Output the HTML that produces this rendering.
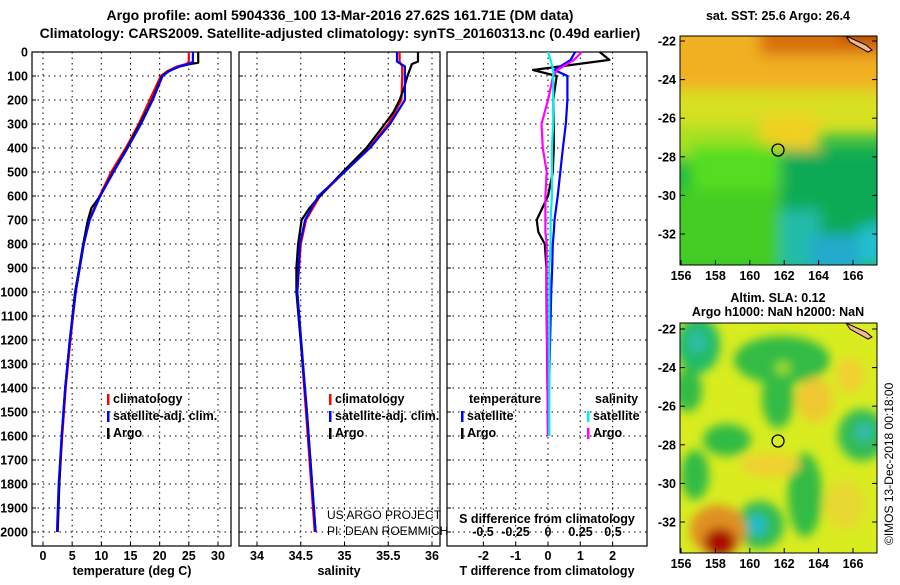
<!DOCTYPE html>
<html><head><meta charset="utf-8">
<style>
body{margin:0;background:#fff;}
svg text{font-family:"Liberation Sans",sans-serif;font-weight:bold;font-size:12.5px;fill:#000;}
</style></head>
<body>
<svg id="chart" width="900" height="580" viewBox="0 0 900 580">
<defs>
<filter id="blur1" x="-20%" y="-20%" width="140%" height="140%"><feGaussianBlur stdDeviation="7"/></filter>
<filter id="blur2" x="-20%" y="-20%" width="140%" height="140%"><feGaussianBlur stdDeviation="5"/></filter>
<clipPath id="m1"><rect x="680" y="36" width="197" height="229"/></clipPath>
<clipPath id="m2"><rect x="680" y="323" width="197" height="230"/></clipPath>
</defs>
<text x="340" y="20" text-anchor="middle" style="font-size:14px">Argo profile: aoml 5904336_100 13-Mar-2016 27.62S 161.71E (DM data)</text>
<text x="340" y="38" text-anchor="middle" style="font-size:14px">Climatology: CARS2009. Satellite-adjusted climatology: synTS_20160313.nc (0.49d earlier)</text>
<g id="panels"></g>
<g id="maps">
 <text x="778" y="20" text-anchor="middle">sat. SST: 25.6 Argo: 26.4</text>
 <g clip-path="url(#m1)">
  <rect x="680" y="36" width="197" height="229" fill="#22bb44"/>
  <g filter="url(#blur1)">
   <rect x="660" y="20" width="240" height="80" fill="#f0b020"/>
   <rect x="660" y="90" width="240" height="45" fill="#d8e020"/>
   <rect x="660" y="125" width="130" height="35" fill="#a8e020"/>
   <rect x="760" y="115" width="60" height="35" fill="#f0d020"/>
   <rect x="690" y="145" width="90" height="50" fill="#55dd22"/>
   <rect x="760" y="15" width="130" height="40" fill="#d87010"/>
   <rect x="840" y="20" width="50" height="20" fill="#b04000"/>
   <rect x="670" y="190" width="110" height="80" fill="#44cc22"/>
   <rect x="780" y="150" width="110" height="100" fill="#11aa55"/>
   <rect x="780" y="210" width="40" height="60" fill="#22bbaa"/>
   <rect x="810" y="235" width="50" height="40" fill="#20aacc"/>
   <rect x="860" y="225" width="30" height="40" fill="#22c0d0"/>
  </g>
  <path d="M846 36 L866 45 L872 50 L868 52 L850 42 Z" fill="#f4b890" stroke="#000" stroke-width="1"/>
  <circle cx="778" cy="150" r="6" fill="none" stroke="#000" stroke-width="1.3"/>
 </g>
 <rect x="680" y="36" width="197" height="229" fill="none" stroke="#000"/>
 <text x="778" y="302" text-anchor="middle">Altim. SLA: 0.12</text>
 <text x="778" y="316" text-anchor="middle">Argo h1000: NaN h2000: NaN</text>
 <g clip-path="url(#m2)">
  <rect x="680" y="323" width="197" height="230" fill="#d8ec20"/>
  <g filter="url(#blur2)">
   <ellipse cx="698" cy="345" rx="22" ry="28" fill="#22bb66"/>
   <ellipse cx="697" cy="342" rx="9" ry="11" fill="#33bbaa"/>
   <ellipse cx="688" cy="390" rx="14" ry="22" fill="#33bb44"/>
   <ellipse cx="782" cy="360" rx="48" ry="24" fill="#33bb44"/>
   <ellipse cx="778" cy="398" rx="16" ry="30" fill="#33bb44"/>
   <ellipse cx="783" cy="368" rx="8" ry="7" fill="#99dd33"/>
   <ellipse cx="727" cy="440" rx="24" ry="16" fill="#33bb44"/>
   <ellipse cx="815" cy="400" rx="18" ry="22" fill="#f0c830"/>
   <ellipse cx="850" cy="375" rx="14" ry="18" fill="#f0d030"/>
   <ellipse cx="862" cy="435" rx="24" ry="26" fill="#33bb55"/>
   <ellipse cx="864" cy="432" rx="9" ry="10" fill="#33bbaa"/>
   <ellipse cx="695" cy="475" rx="14" ry="25" fill="#33bb44"/>
   <ellipse cx="805" cy="495" rx="17" ry="42" fill="#33bb44"/>
   <ellipse cx="760" cy="525" rx="24" ry="24" fill="#33bb55"/>
   <ellipse cx="757" cy="525" rx="9" ry="11" fill="#22bbcc"/>
   <ellipse cx="718" cy="530" rx="28" ry="25" fill="#e09020"/>
   <ellipse cx="720" cy="542" rx="16" ry="14" fill="#a81000"/>
   <ellipse cx="770" cy="465" rx="30" ry="12" fill="#f0d030"/>
   <ellipse cx="845" cy="505" rx="20" ry="25" fill="#e8d830"/>
  </g>
  <path d="M846 323 L866 332 L872 337 L868 339 L850 329 Z" fill="#f4b890" stroke="#000" stroke-width="1"/>
  <circle cx="778" cy="441" r="6" fill="none" stroke="#000" stroke-width="1.3"/>
 </g>
 <rect x="680" y="323" width="197" height="230" fill="none" stroke="#000"/>
 <text transform="translate(893,545) rotate(-90)" style="font-weight:normal;font-size:12px">©IMOS 13-Dec-2018 00:18:00</text>
</g>
</svg>
<script>
// ---- data ----
const depthTicks=[0,100,200,300,400,500,600,700,800,900,1000,1100,1200,1300,1400,1500,1600,1700,1800,1900,2000];
const tTicks=[0,5,10,15,20,25,30];
const sTicks=[34,34.5,35,35.5,36];
const dTTicks=[-2,-1,0,1,2];
const dSTickLabels=["-0.5","-0.25","0","0.25","0.5"];
const dSTicks=[-0.5,-0.25,0,0.25,0.5];
const tArgoDepth=[0,45,50,60,80,100,200,300,400,500,600,650,700,800,900,1000,1200,1400,1600,1800,2000];
const tArgo=[26.6,26.6,25.2,23.5,21.5,20.4,18.7,16.6,14.4,12.0,9.8,8.3,7.7,6.9,6.2,5.5,4.6,3.8,3.2,2.8,2.5];
const tClimDepth=[0,40,50,60,80,100,200,300,400,500,600,700,800,900,1000,1200,1400,1600,1800,2000];
const tClim=[25.0,25.0,24.6,23.0,21.3,20.2,18.3,16.4,14.2,11.7,9.7,7.9,7.0,6.3,5.6,4.7,3.9,3.3,2.8,2.5];
const tSat=[25.7,25.7,25.0,23.3,21.6,20.5,18.8,16.8,14.5,12.1,9.8,8.0,7.0,6.3,5.6,4.6,3.8,3.2,2.7,2.4];
const sArgoDepth=[0,40,50,100,150,200,250,300,400,500,600,650,700,800,900,1000,1500,2000];
const sArgo=[35.84,35.84,35.77,35.72,35.68,35.63,35.56,35.46,35.25,34.98,34.72,34.60,34.51,34.47,34.45,34.45,34.57,34.67];
const sClimDepth=[0,40,60,100,200,300,400,500,600,700,800,1000,1500,2000];
const sClim=[35.63,35.63,35.66,35.66,35.65,35.50,35.28,35.0,34.72,34.56,34.50,34.46,34.56,34.66];
const sSat=[35.60,35.60,35.69,35.69,35.69,35.52,35.29,35.0,34.70,34.55,34.49,34.46,34.57,34.67];
const dDepth=[0,33,75,100,200,300,400,500,600,700,750,800,900,1000,1600];
const dTArgo=[1.6,1.9,-0.46,0.27,0.16,0.18,0.18,0.15,0.0,-0.35,-0.3,-0.1,-0.05,-0.05,0.0];
const dTSat=[0.84,0.7,0.2,0.6,0.6,0.55,0.46,0.38,0.3,0.2,0.18,0.15,0.13,0.1,0.0];
const dSArgo=[0.26,0.2,0.07,0.04,0.0,-0.05,-0.04,-0.01,-0.02,-0.02,-0.02,-0.01,-0.01,-0.01,0.0];
const dSSat=[0.0,0.02,0.04,0.04,0.04,0.04,0.03,0.03,0.03,0.02,0.02,0.02,0.01,0.01,0.01];
const latTicks=[-22,-24,-26,-28,-30,-32];
const lonTicks=[156,158,160,162,164,166];

const NS="http://www.w3.org/2000/svg";
const root=document.getElementById('panels');
function mk(tag,attrs,parent,txt){const e=document.createElementNS(NS,tag);for(const k in attrs)e.setAttribute(k,attrs[k]);if(txt!==undefined)e.textContent=txt;(parent||root).appendChild(e);return e;}
const yD=d=>52+d*0.24;
const TOP=52,BOT=546;
const panels=[
 {x0:32,x1:231,fx:v=>43+v*5.833,ticks:tTicks,name:'temperature'},
 {x0:239,x1:440,fx:v=>257+(v-34)*87.5,ticks:sTicks,name:'salinity'},
 {x0:447,x1:647,fx:v=>548+v*32.3,ticks:dTTicks,name:'difference'}];
const fS=v=>548+v*130;
panels.forEach((p,i)=>{
 const g=mk('g',{});
 
 
 depthTicks.forEach(d=>{const l=mk('line',{x1:p.x0,x2:p.x1,y1:yD(d),y2:yD(d),stroke:'#000','stroke-dasharray':'1.5 4','stroke-width':1},g);
  
  
  mk('line',{x1:p.x0,x2:p.x0+4,y1:yD(d),y2:yD(d),stroke:'#000'},g);});
 p.ticks.forEach(v=>{const x=p.fx(v);const l=mk('line',{x1:x,x2:x,y1:TOP,y2:BOT,stroke:'#000','stroke-dasharray':'1.5 4'},g);
  
  
  mk('line',{x1:x,x2:x,y1:BOT,y2:BOT-4,stroke:'#000'},g);
  const t=mk('text',{x:x,y:560,'text-anchor':'middle'},g,String(v));
  
  });
 const r=mk('rect',{x:p.x0,y:TOP,width:p.x1-p.x0,height:BOT-TOP,fill:'none',stroke:'#000','stroke-width':1.2},g);
 
 
 p.g=g;
});
depthTicks.forEach(d=>{const t=mk('text',{x:28,y:yD(d)+4.5,'text-anchor':'end'},root,String(d));
 
 });
function line(g,xs,ds,fx,color,name,w){const pts=xs.map((v,i)=>fx(v).toFixed(1)+','+yD(ds[i]).toFixed(1)).join(' ');
 const pl=mk('polyline',{points:pts,fill:'none',stroke:color,'stroke-width':w||2.2,'stroke-linejoin':'round'},g);
 
 }
const P=panels;
line(P[0].g,tClim,tClimDepth,P[0].fx,'#f00','temperature-climatology-line');
line(P[0].g,tArgo,tArgoDepth,P[0].fx,'#000','temperature-argo-line');
line(P[0].g,tSat,tClimDepth,P[0].fx,'#00f','temperature-satellite-line');
line(P[1].g,sClim,sClimDepth,P[1].fx,'#f00','salinity-climatology-line');
line(P[1].g,sArgo,sArgoDepth,P[1].fx,'#000','salinity-argo-line');
line(P[1].g,sSat,sClimDepth,P[1].fx,'#00f','salinity-satellite-line');
line(P[2].g,dTArgo,dDepth,P[2].fx,'#000','t-diff-argo-line');
line(P[2].g,dTSat,dDepth,P[2].fx,'#00f','t-diff-satellite-line');
line(P[2].g,dSArgo,dDepth,fS,'#f0f','s-diff-argo-line');
line(P[2].g,dSSat,dDepth,fS,'#0ee','s-diff-satellite-line');
dSTicks.forEach((v,i)=>{const t=mk('text',{x:fS(v),y:536,'text-anchor':'middle'},P[2].g,dSTickLabels[i]);
 
 });
const s1=mk('text',{x:547,y:523,'text-anchor':'middle'},P[2].g,'S difference from climatology');


[['temperature (deg C)',132],['salinity',339],['T difference from climatology',547]].forEach(a=>{
 const t=mk('text',{x:a[1],y:575,'text-anchor':'middle'},root,a[0]);
 
 });
function legend(x,y,items){items.forEach((it,i)=>{const yy=y+i*17;
 mk('rect',{x:x,y:yy-9,width:2.5,height:11,fill:it[1]});
 const t=mk('text',{x:x+6,y:yy},root,it[0]);
 
 });}
legend(107,403,[['climatology','#f00'],['satellite-adj. clim.','#00f'],['Argo','#000']]);
legend(329,403,[['climatology','#f00'],['satellite-adj. clim.','#00f'],['Argo','#000']]);
const lt=mk('text',{x:469,y:403},root,'temperature');


const ls=mk('text',{x:595,y:403},root,'salinity');


legend(461,420,[['satellite','#00f'],['Argo','#000']]);
legend(587,420,[['satellite','#0ee'],['Argo','#f0f']]);
[['US ARGO PROJECT',519],['PI: DEAN ROEMMICH',535]].forEach(a=>{const t=mk('text',{x:327,y:a[1],style:'font-weight:normal;font-size:12px'},root,a[0]);
 
 });
const maps=document.getElementById('maps');
[[41,234,265],[329,522,553]].forEach(m=>{
 latTicks.forEach(v=>{const y=m[0]+(-22-v)*(m[1]-m[0])/10;
  mk('line',{x1:680,x2:685,y1:y,y2:y,stroke:'#000'},maps);mk('line',{x1:872,x2:877,y1:y,y2:y,stroke:'#000'},maps);
  const t=mk('text',{x:676,y:y+4.5,'text-anchor':'end'},maps,String(v));
  
  });
 lonTicks.forEach(v=>{const x=681+(v-156)*17.2;
  mk('line',{x1:x,x2:x,y1:m[2],y2:m[2]-5,stroke:'#000'},maps);
  const t=mk('text',{x:x,y:m[2]+15,'text-anchor':'middle'},maps,String(v));
  
  });
});
</script>
</body></html>
